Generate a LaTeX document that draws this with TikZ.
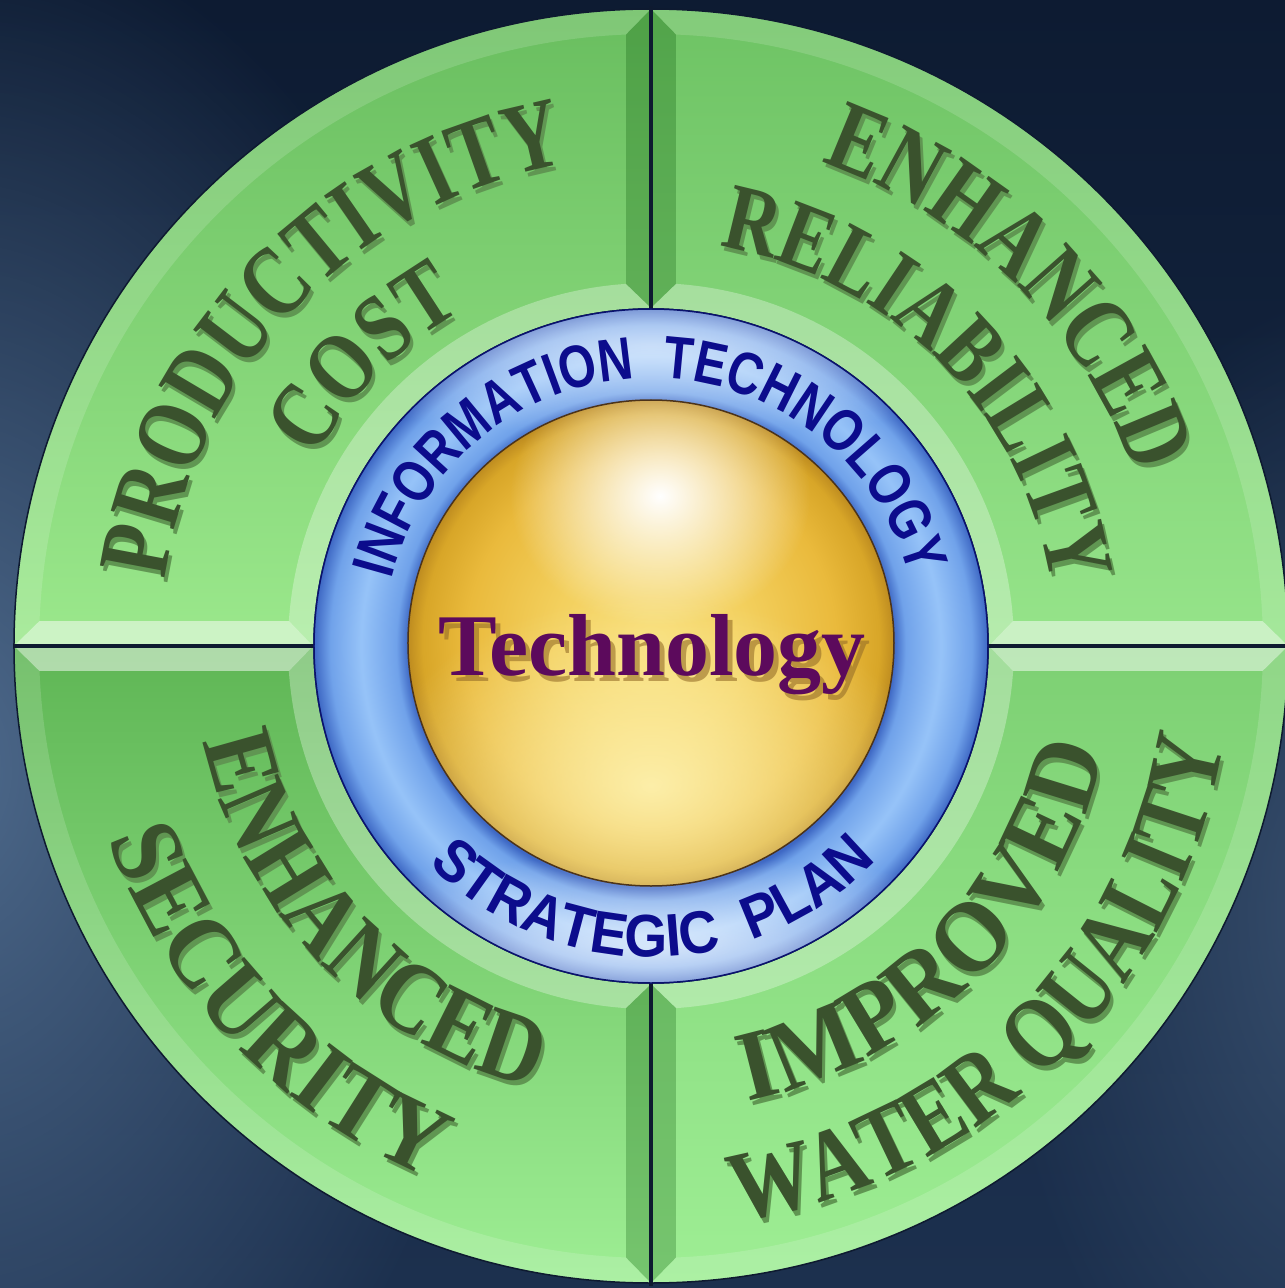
\documentclass[tikz,border=0pt]{standalone}
\usepackage{fontspec}
\usetikzlibrary{decorations.text,fadings}
\newfontfamily\gserif{Liberation Serif}
\newfontfamily\gsans{Liberation Sans}
\definecolor{bgtop}{RGB}{13,27,50}
\definecolor{bgbot}{RGB}{28,48,78}
\definecolor{bgglow}{RGB}{78,106,140}
\definecolor{gapc}{RGB}{14,26,48}
\definecolor{gtxt}{RGB}{58,82,45}
\definecolor{gshadow}{RGB}{96,150,82}
\definecolor{itblue}{RGB}{12,12,140}
\definecolor{tpurple}{RGB}{92,10,92}
\definecolor{tshadow}{RGB}{150,110,40}
\definecolor{gTLt}{RGB}{105,190,95}
\definecolor{gTLb}{RGB}{155,232,140}
\definecolor{gTRt}{RGB}{110,195,100}
\definecolor{gTRb}{RGB}{150,228,138}
\definecolor{gBLt}{RGB}{95,182,85}
\definecolor{gBLb}{RGB}{158,238,148}
\definecolor{gBRt}{RGB}{125,208,115}
\definecolor{gBRb}{RGB}{158,238,148}
\definecolor{bl1}{RGB}{62,104,196}
\definecolor{bl2}{RGB}{112,162,234}
\definecolor{bl3}{RGB}{150,195,248}
\definecolor{gd1}{RGB}{248,222,120}
\definecolor{gd2}{RGB}{243,208,94}
\definecolor{gd3}{RGB}{234,186,60}
\definecolor{gd4}{RGB}{216,166,40}
\definecolor{gd5}{RGB}{190,140,32}
\definecolor{ylglow}{RGB}{255,246,185}
% radial shadings: the path's circle edge sits at 25bp
\pgfdeclareradialshading{bluering}{\pgfpoint{0bp}{0bp}}{color(0bp)=(bl1); color(18bp)=(bl1); color(18.9bp)=(bl2); color(21.5bp)=(bl3); color(23.8bp)=(bl2); color(25bp)=(bl1); color(50bp)=(bl1)}
\pgfdeclareradialshading{goldball}{\pgfpoint{0bp}{0bp}}{color(0bp)=(gd1); color(10bp)=(gd2); color(19bp)=(gd3); color(23.5bp)=(gd4); color(25bp)=(gd5); color(50bp)=(gd5)}
\tikzfading[name=glowfade, inner color=transparent!0, outer color=transparent!100]
\tikzset{
  outerfacet/.style={fill=white, fill opacity=0.15},
  innerfacet/.style={fill=white, fill opacity=0.3},
  brightfacet/.style={fill=white, fill opacity=0.5},
  darkfacet/.style={fill=black!70!green, fill opacity=0.25},
  gapline/.style={draw=gapc, line width=4pt},
  rimline/.style={draw=gapc, line width=1.5pt}
}
\newcommand\facets[3]{%
  \begin{scope}[rotate=#1]
    \fill[outerfacet] (90:637) arc[start angle=90,end angle=180,radius=637] -- (177.659:612) arc[start angle=177.659,end angle=92.341,radius=612] -- cycle;
    \fill[#2] (180:637) -- (180:338) -- (176.051:363) -- (177.659:612) -- cycle;
    \fill[innerfacet] (180:338) arc[start angle=180,end angle=90,radius=338] -- (93.949:363) arc[start angle=93.949,end angle=176.051,radius=363] -- cycle;
    \fill[#3] (90:338) -- (90:637) -- (92.341:612) -- (93.949:363) -- cycle;
  \end{scope}}
\newcommand\gword[6]{%
  \pgfmathsetmacro\wS{#1+#3}\pgfmathsetmacro\wE{#1-#3}%
  \path[decorate,decoration={text along path,text align=center,
    text={|\gserif\bfseries\fontsize{#4}{#4}\selectfont\addfontfeature{FakeStretch=#5}\color{gshadow}|#6}}]
    ([shift={(3,-5)}]\wS:#2) arc[start angle=\wS,end angle=\wE,radius=#2];
  \path[decorate,decoration={text along path,text align=center,
    text={|\gserif\bfseries\fontsize{#4}{#4}\selectfont\addfontfeature{FakeStretch=#5}\color{gtxt}|#6}}]
    (\wS:#2) arc[start angle=\wS,end angle=\wE,radius=#2];}
\newcommand\bword[5]{%
  \pgfmathsetmacro\wS{#1+#3}\pgfmathsetmacro\wE{#1-#3}%
  \path[decorate,decoration={text along path,text align=center,
    text={|\gsans\bfseries\fontsize{60}{60}\selectfont\addfontfeature{FakeStretch=#4}\color{itblue}|#5}}]
    (\wS:#2) arc[start angle=\wS,end angle=\wE,radius=#2];}
\begin{document}
\begin{tikzpicture}[x=1pt,y=1pt]
\useasboundingbox (-651,-642) rectangle (634,646);
\clip (-651,-642) rectangle (634,646);
% background
\shade[top color=bgtop, bottom color=bgbot] (-651,-642) rectangle (634,646);
\fill[bgglow, path fading=glowfade] (-700,-120) ellipse (560 and 850);
\fill[bgglow!70!bgtop, path fading=glowfade] (720,-260) ellipse (380 and 620);
% green quadrants
\shade[top color=gTLt, bottom color=gTLb] (90:338) -- (90:637) arc[start angle=90,end angle=180,radius=637] -- (180:338) arc[start angle=180,end angle=90,radius=338] -- cycle;
\shade[top color=gTRt, bottom color=gTRb] (0:338) -- (0:637) arc[start angle=0,end angle=90,radius=637] -- (90:338) arc[start angle=90,end angle=0,radius=338] -- cycle;
\shade[top color=gBLt, bottom color=gBLb] (180:338) -- (180:637) arc[start angle=180,end angle=270,radius=637] -- (270:338) arc[start angle=270,end angle=180,radius=338] -- cycle;
\shade[top color=gBRt, bottom color=gBRb] (270:338) -- (270:637) arc[start angle=270,end angle=360,radius=637] -- (360:338) arc[start angle=360,end angle=270,radius=338] -- cycle;
\facets{0}{brightfacet}{darkfacet}
\facets{-90}{darkfacet}{brightfacet}
\facets{90}{darkfacet}{brightfacet}
\facets{180}{brightfacet}{darkfacet}
\draw[gapline] (0,336) -- (0,640);
\draw[gapline] (0,-336) -- (0,-640);
\draw[gapline] (-637,0) -- (-336,0);
\draw[gapline] (336,0) -- (640,0);
\draw[rimline] (0,0) circle (637);
% blue ring
\shade[shading=bluering] (0,0) circle (337);
\begin{scope}
  \clip (0,0) circle (337);
  \fill[white, fill opacity=0.55, path fading=glowfade] (0,300) ellipse (420 and 90);
  \fill[white, fill opacity=0.65, path fading=glowfade] (0,-300) ellipse (420 and 90);
\end{scope}
\draw[draw=gapc!70!blue, line width=1.5pt] (0,0) circle (337);
% gold sphere
\shade[shading=goldball] (0,3) circle (243);
\begin{scope}
  \clip (0,3) circle (243);
  \fill[ylglow, fill opacity=0.85, path fading=glowfade] (0,-140) ellipse (280 and 190);
  \fill[white, path fading=glowfade] (9,150) ellipse (150 and 130);
\end{scope}
\draw[draw=black!60!brown, line width=1.5pt] (0,3) circle (243);
% ring texts
\bword{90.5}{268}{90}{0.8}{INFORMATION\ \ TECHNOLOGY}
\bword{270.5}{311}{-75}{0.92}{STRATEGIC\ \ PLAN}
% centre text
\node[font=\gserif\bfseries\fontsize{88}{88}\selectfont, text=tshadow, text opacity=0.6, anchor=base] (techshadow) at (6,-35) {Technology};
\node[font=\gserif\bfseries\fontsize{88}{88}\selectfont, text=tpurple, anchor=base] (tech) at (1,-29) {Technology};
% green texts
\gword{136}{490}{60}{100}{0.79}{PRODUCTIVITY}
\gword{135}{385}{60}{95}{0.82}{COST}
\gword{45}{513}{60}{100}{0.8}{ENHANCED}
\gword{44.5}{405}{60}{95}{0.8}{RELIABILITY}
\gword{223.5}{458}{-60}{100}{0.88}{ENHANCED}
\gword{223.5}{576}{-60}{100}{0.93}{SECURITY}
\gword{314.5}{465}{-60}{100}{0.95}{IMPROVED}
\gword{314.5}{581}{-60}{100}{0.84}{WATER QUALITY}
\end{tikzpicture}
\end{document}
